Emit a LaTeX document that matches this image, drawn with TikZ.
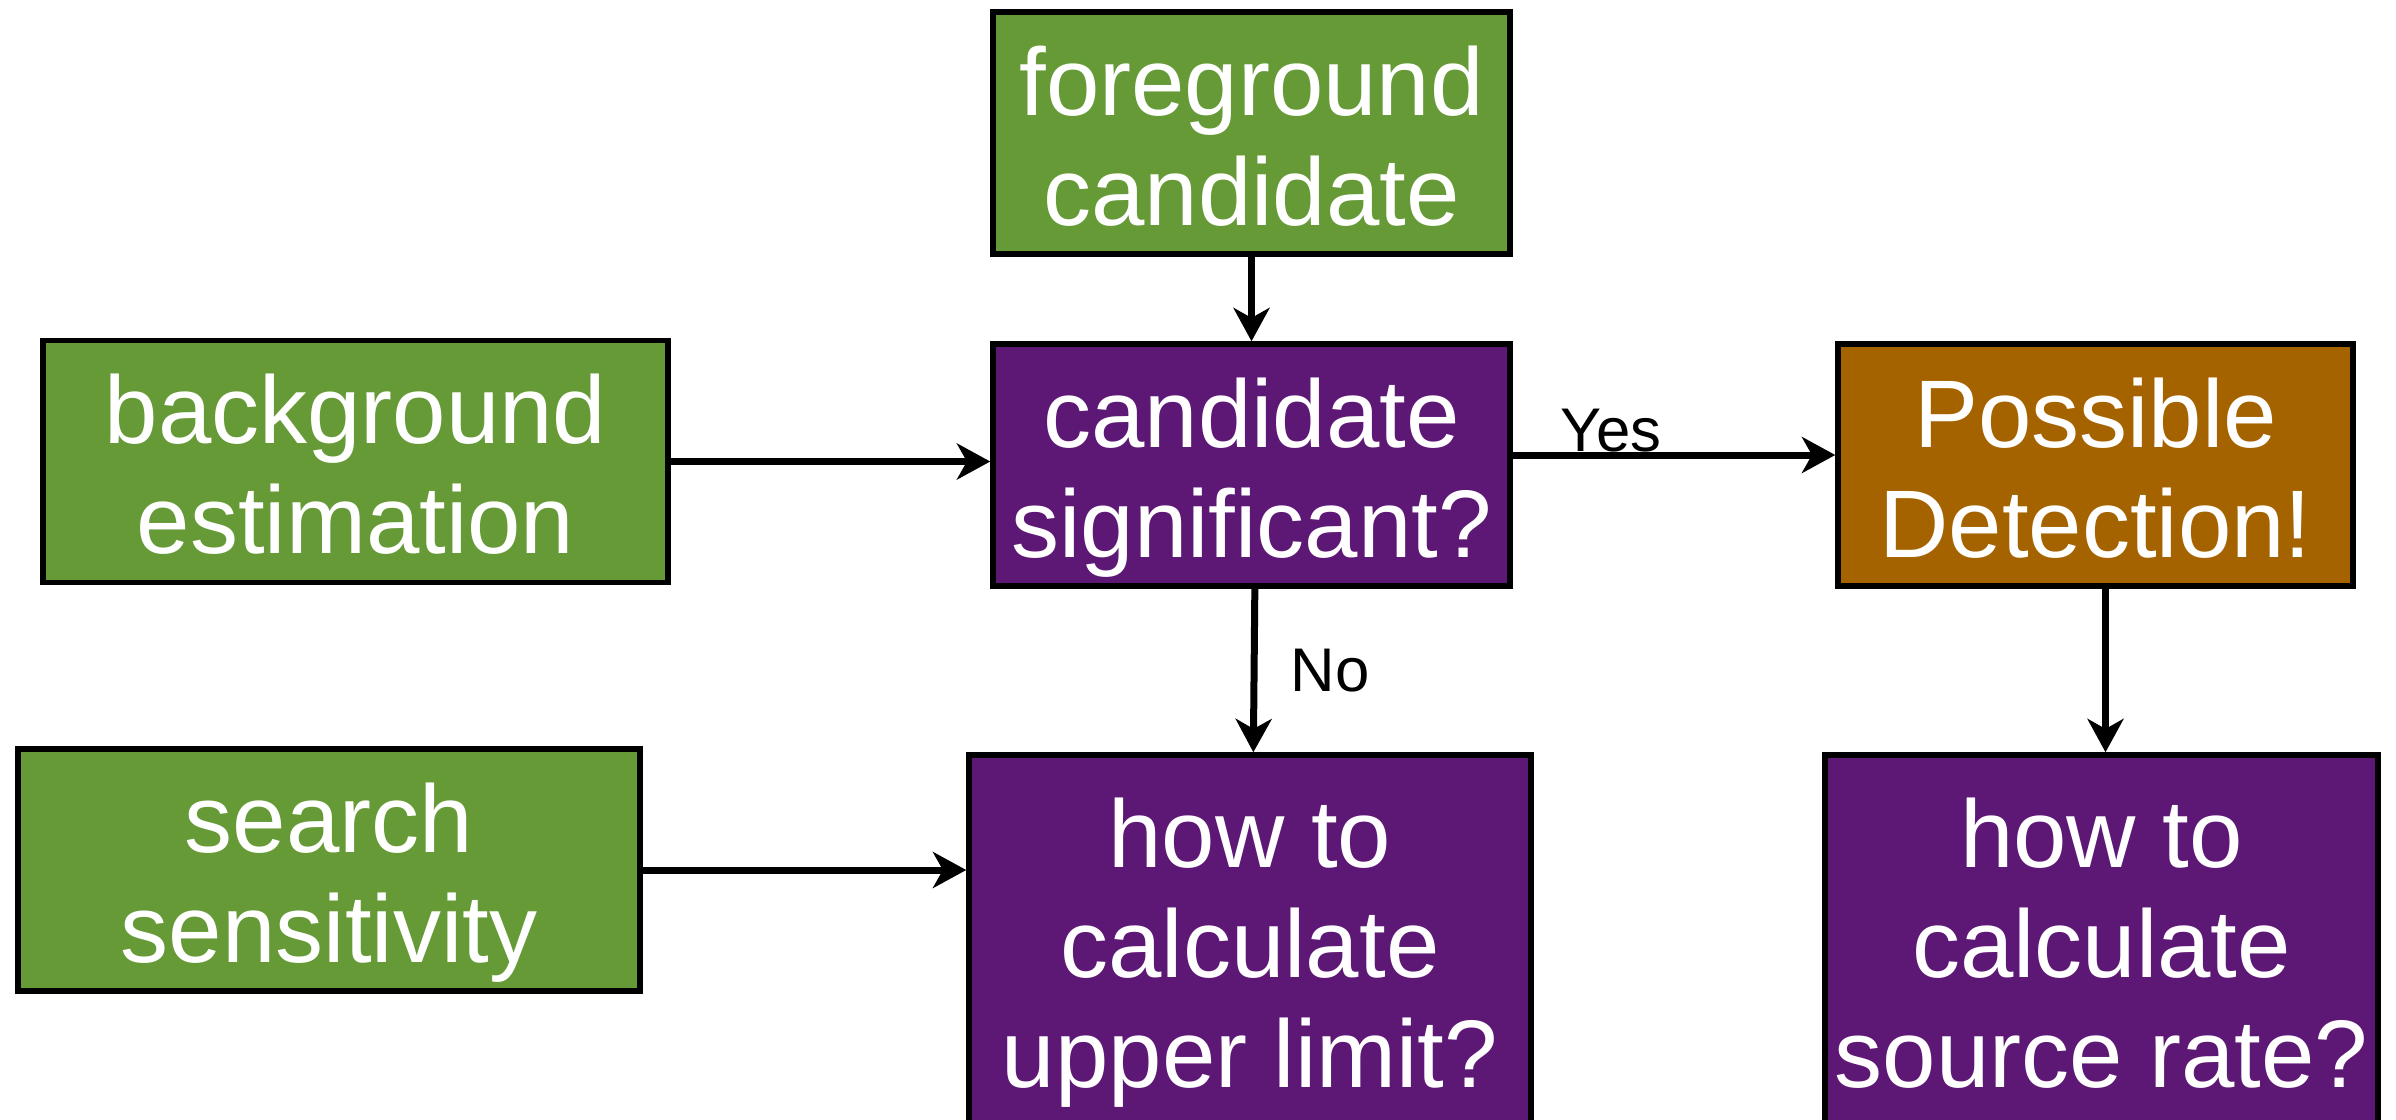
\documentclass[tikz,border=0pt]{standalone}
\usepackage{fontspec}
\setmainfont{Liberation Sans}
\usetikzlibrary{arrows.meta}
\definecolor{boxgreen}{RGB}{102,154,54}
\definecolor{boxpurple}{RGB}{93,24,117}
\definecolor{boxorange}{RGB}{165,99,0}
\newcommand{\topstrut}{\rule{0pt}{29.2pt}}
\newcommand{\botstrut}{\rule[-7pt]{0pt}{7pt}}
\tikzset{
  box/.style={draw=black, line width=1.65pt, text=white, align=center,
    font=\fontsize{28.8}{33}\selectfont, inner sep=0pt},
  greenbox/.style={box, fill=boxgreen},
  purplebox/.style={box, fill=boxpurple},
  orangebox/.style={box, fill=boxorange},
  arr/.style={line width=2.1pt, -{Stealth[length=10pt,width=10.8pt,inset=3pt]}},
  lbl/.style={font=\fontsize{18.5}{22}\selectfont, text=black, inner sep=0pt}
}
\begin{document}
\begin{tikzpicture}[x=0.3pt,y=-0.3pt]
\useasboundingbox (0,0) rectangle (2396,1119);
\clip (0,0) rectangle (2396,1119);
\node[greenbox, minimum width=155.1pt, minimum height=72.6pt] (fg) at (1251.5,133) {\topstrut foreground\\candidate\botstrut};
\node[greenbox, minimum width=187.5pt, minimum height=72.6pt] (bg) at (355.5,461.5) {\topstrut background\\estimation\botstrut};
\node[purplebox, minimum width=155.1pt, minimum height=72.6pt] (cand) at (1251.5,465) {\topstrut candidate\\significant?\botstrut};
\node[orangebox, minimum width=154.5pt, minimum height=72.6pt] (pd) at (2095.5,465) {\topstrut Possible\\Detection!\botstrut};
\node[greenbox, minimum width=186.6pt, minimum height=72.6pt] (search) at (329,870) {\topstrut search\\sensitivity\botstrut};
\node[purplebox, minimum width=168.6pt, minimum height=111pt] (upper) at (1250,940) {\topstrut how to\\calculate\\upper limit?\botstrut};
\node[purplebox, minimum width=165.9pt, minimum height=111pt] (source) at (2101.5,940) {\topstrut how to\\calculate\\source rate?\botstrut};

\draw[arr] (fg.south) -- (cand.north);
\draw[arr] (bg.east) -- (bg.east -| cand.west);
\draw[arr] ([yshift=3pt]cand.east) -- node[lbl, pos=0.305, anchor=base, yshift=1pt] (yes) {Yes} ([yshift=3pt]pd.west);
\draw[arr] ([xshift=1pt]cand.south) -- node[lbl, pos=0.5, anchor=west, xshift=10pt] (no) {No} ([xshift=1pt]upper.north);
\draw[arr] (search.east) -- (search.east -| upper.west);
\draw[arr] ([xshift=3pt]pd.south) -- ([xshift=3pt]pd.south |- source.north);
\end{tikzpicture}
\end{document}
